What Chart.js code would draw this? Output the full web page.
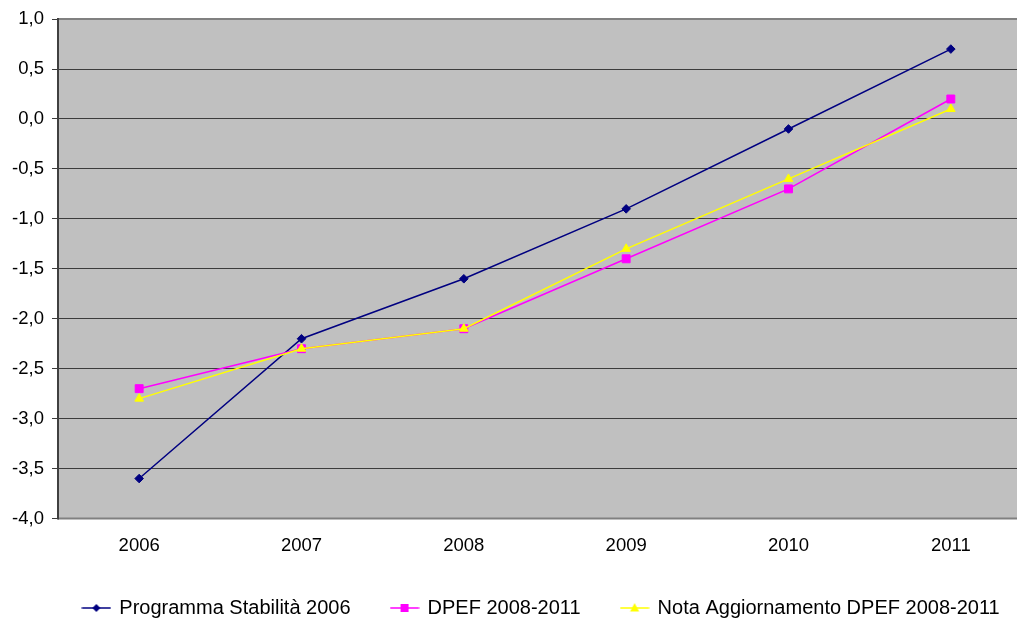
<!DOCTYPE html>
<html>
<head>
<meta charset="utf-8">
<script src="https://cdn.jsdelivr.net/npm/chart.js@4/dist/chart.umd.min.js"></script>
<style>
  html, body { margin: 0; padding: 0; overflow: hidden; background: #ffffff; }
  #wrap { position: absolute; left: 0; top: 0; width: 1083px; height: 628px; }
</style>
</head>
<body>
<div id="wrap"><canvas id="chart" width="1083" height="628"></canvas></div>
<script>
// Anni sull'asse orizzontale
const years = ['2006', '2007', '2008', '2009', '2010', '2011'];

// Serie (valori in punti percentuali)
const programmaStabilita2006 = [-3.6, -2.2, -1.6, -0.9, -0.1, 0.7];
const dpef20082011 = [-2.7, -2.3, -2.1, -1.4, -0.7, 0.2];
const notaAggiornamentoDpef = [-2.8, -2.3, -2.1, -1.3, -0.6, 0.1];

const seriesNames = [
  'Programma Stabilità 2006',
  'DPEF 2008-2011',
  'Nota Aggiornamento DPEF 2008-2011'
];

// Asse verticale
const yMin = -4.0;
const yMax = 1.0;
const yStep = 0.5;

const FONT = '"Liberation Sans", Arial, sans-serif';

// Campione di legenda: segmento con il marcatore al centro
function legendSample(color, shape) {
  const c = document.createElement('canvas');
  c.width = 30; c.height = 14;
  const g = c.getContext('2d');
  g.strokeStyle = color;
  g.lineWidth = 1.5;
  g.beginPath();
  g.moveTo(0.5, 7);
  g.lineTo(29.5, 7);
  g.stroke();
  g.fillStyle = color;
  g.beginPath();
  const cx = 15, cy = 7;
  if (shape === 'diamond') {
    g.moveTo(cx - 4, cy); g.lineTo(cx, cy - 4); g.lineTo(cx + 4, cy); g.lineTo(cx, cy + 4);
  } else if (shape === 'square') {
    g.rect(cx - 4, cy - 4, 8, 8);
  } else {
    g.moveTo(cx, cy - 5); g.lineTo(cx + 4.5, cy + 3.5); g.lineTo(cx - 4.5, cy + 3.5);
  }
  g.closePath();
  g.fill();
  return c;
}

const samples = [
  legendSample('#000080', 'diamond'),
  legendSample('#FF00FF', 'square'),
  legendSample('#FFFF00', 'triangle')
];

// Sfondo grigio e bordi dell'area del grafico
const plotArea = {
  id: 'plotArea',
  beforeDraw(chart) {
    const { ctx, chartArea: a } = chart;
    ctx.save();
    ctx.fillStyle = '#C0C0C0';
    ctx.fillRect(a.left, a.top, a.right - a.left, a.bottom - a.top);
    ctx.restore();
  },
  beforeDatasetsDraw(chart) {
    const { ctx, chartArea: a } = chart;
    ctx.save();
    ctx.lineWidth = 2;
    ctx.strokeStyle = '#808080';
    ctx.beginPath();
    ctx.moveTo(a.left, a.top); ctx.lineTo(a.right, a.top);
    ctx.moveTo(a.left, a.bottom); ctx.lineTo(a.right, a.bottom);
    ctx.stroke();
    ctx.strokeStyle = '#404040';
    ctx.beginPath();
    ctx.moveTo(a.left, a.top - 1); ctx.lineTo(a.left, a.bottom + 1);
    ctx.stroke();
    ctx.restore();
  }
};

const common = {
  fill: false,
  tension: 0,
  borderWidth: 1.5,
  pointBorderWidth: 1,
  pointHoverRadius: 5
};

new Chart(document.getElementById('chart'), {
  type: 'line',
  data: {
    labels: years,
    datasets: [
      Object.assign({}, common, {
        label: seriesNames[0],
        data: programmaStabilita2006,
        borderColor: '#000080',
        backgroundColor: '#000080',
        pointBackgroundColor: '#000080',
        pointBorderColor: '#000080',
        pointStyle: 'rectRot',
        pointRadius: 4.3,
        order: 3
      }),
      Object.assign({}, common, {
        label: seriesNames[1],
        data: dpef20082011,
        borderColor: '#FF00FF',
        backgroundColor: '#FF00FF',
        pointBackgroundColor: '#FF00FF',
        pointBorderColor: '#FF00FF',
        pointStyle: 'rect',
        pointRadius: 5.6,
        order: 2
      }),
      Object.assign({}, common, {
        label: seriesNames[2],
        data: notaAggiornamentoDpef,
        borderColor: '#FFFF00',
        backgroundColor: '#FFFF00',
        pointBackgroundColor: '#FFFF00',
        pointBorderColor: '#FFFF00',
        pointStyle: 'triangle',
        pointRadius: 5,
        order: 1
      })
    ]
  },
  options: {
    responsive: false,
    animation: false,
    devicePixelRatio: 1,
    layout: { padding: { top: 18.5, left: 0, right: 0, bottom: 0 } },
    scales: {
      x: {
        type: 'category',
        offset: true,
        grid: { display: false, offset: true },
        border: { display: false },
        ticks: {
          color: '#000000',
          padding: 8,
          font: { family: FONT, size: 18.5 },
          maxRotation: 0
        },
        afterFit(s) { s.height = 38.5; }
      },
      y: {
        min: yMin,
        max: yMax,
        position: 'left',
        border: { display: false },
        grid: {
          color: '#3c3c3c',
          lineWidth: 1,
          tickLength: 6,
          tickColor: '#3c3c3c',
          drawTicks: true
        },
        ticks: {
          stepSize: yStep,
          color: '#000000',
          padding: 8,
          font: { family: FONT, size: 18.5 },
          callback: (v) => Number(v).toFixed(1).replace('.', ',')
        },
        afterFit(s) { s.width = 58; }
      },
      spacer: {
        position: 'right',
        display: true,
        grid: { display: false },
        border: { display: false },
        ticks: { display: false },
        afterFit(s) { s.width = 51; }
      }
    },
    plugins: {
      tooltip: { enabled: false },
      legend: {
        position: 'bottom',
        align: 'center',
        labels: {
          usePointStyle: true,
          pointStyleWidth: 26,
          padding: 41,
          color: '#000000',
          font: { family: FONT, size: 20 },
          sort: (a, b) => a.datasetIndex - b.datasetIndex,
          generateLabels(chart) {
            return chart.data.datasets.map((ds, i) => ({
              text: ds.label,
              datasetIndex: i,
              pointStyle: samples[i],
              fillStyle: ds.borderColor,
              strokeStyle: ds.borderColor,
              lineWidth: 0,
              hidden: false,
              fontColor: '#000000'
            }));
          }
        }
      }
    }
  },
  plugins: [plotArea]
});
</script>
</body>
</html>
